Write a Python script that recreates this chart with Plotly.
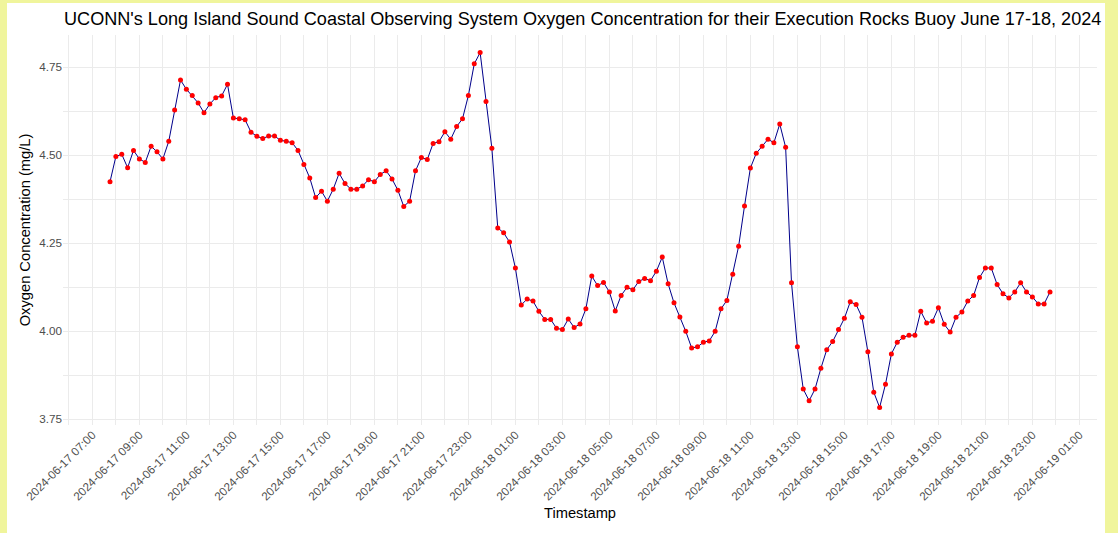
import pandas as pd
import plotly.graph_objects as go

# Dissolved oxygen readings (mg/L), one every 15 minutes from 2024-06-17 07:45
start_time = "2024-06-17 07:45"
interval = "15min"
oxygen_mg_l = [
    4.425, 4.497, 4.503, 4.465, 4.514, 4.490, 4.480, 4.526, 4.510, 4.490,
    4.540, 4.629, 4.714, 4.688, 4.670, 4.649, 4.621, 4.646, 4.664, 4.669,
    4.702, 4.606, 4.604, 4.601, 4.566, 4.554, 4.548, 4.555, 4.555, 4.543,
    4.540, 4.536, 4.514, 4.474, 4.436, 4.380, 4.398, 4.370, 4.404, 4.449,
    4.420, 4.404, 4.404, 4.413, 4.431, 4.425, 4.446, 4.456, 4.433, 4.401,
    4.355, 4.370, 4.456, 4.494, 4.488, 4.534, 4.539, 4.567, 4.546, 4.582,
    4.604, 4.670, 4.760, 4.792, 4.653, 4.520, 4.294, 4.280, 4.254, 4.180,
    4.075, 4.092, 4.086, 4.057, 4.034, 4.034, 4.009, 4.005, 4.035, 4.011,
    4.021, 4.064, 4.157, 4.130, 4.139, 4.112, 4.058, 4.102, 4.125, 4.118,
    4.142, 4.150, 4.144, 4.171, 4.211, 4.135, 4.081, 4.041, 4.000, 3.953,
    3.956, 3.969, 3.973, 4.000, 4.064, 4.088, 4.162, 4.242, 4.356, 4.464,
    4.506, 4.526, 4.546, 4.536, 4.589, 4.523, 4.138, 3.956, 3.836, 3.803,
    3.836, 3.895, 3.948, 3.971, 4.005, 4.037, 4.084, 4.076, 4.040, 3.942,
    3.827, 3.784, 3.850, 3.936, 3.969, 3.983, 3.989, 3.989, 4.057, 4.024,
    4.029, 4.067, 4.020, 3.998, 4.040, 4.055, 4.086, 4.102, 4.153, 4.180,
    4.180, 4.133, 4.107, 4.095, 4.112, 4.138, 4.112, 4.098, 4.078, 4.078,
    4.112,
]
timestamps = pd.date_range(start_time, periods=len(oxygen_mg_l), freq=interval)

y_ticks = [3.75, 4.00, 4.25, 4.50, 4.75]
y_tick_labels = ["3.75", "4.00", "4.25", "4.50", "4.75"]
x_range = ["2024-06-17 05:45", "2024-06-19 01:45"]
y_range = [3.734, 4.842]

FONT = "Liberation Sans, Arial, sans-serif"
GRID = "#EBEBEB"
TICK_GREY = "#4D4D4D"
FRAME = "#F0F59C"

fig = go.Figure()
fig.add_trace(go.Scatter(
    x=timestamps, y=oxygen_mg_l, mode="lines",
    line=dict(color="darkblue", width=1),
    hoverinfo="skip", showlegend=False,
))
fig.add_trace(go.Scatter(
    x=timestamps, y=oxygen_mg_l, mode="markers",
    marker=dict(color="red", size=5, line=dict(width=0)),
    showlegend=False,
))

W, H = 1118, 533
ml, mr, mt, mb = 63, 21, 35, 108
pw, ph = W - ml - mr, H - mt - mb

# white page framed by a yellow border on left, top and right
fig.add_shape(
    type="rect", xref="paper", yref="paper", layer="below",
    x0=(7 - ml) / pw, x1=(1105 - ml) / pw,
    y0=-(mb + 2) / ph, y1=1 + (mt - 3) / ph,
    fillcolor="white", line=dict(width=0),
)

fig.update_layout(
    width=W, height=H,
    margin=dict(l=ml, r=mr, t=mt, b=mb, autoexpand=False),
    paper_bgcolor=FRAME, plot_bgcolor="white",
    font=dict(family=FONT),
    title=dict(
        text="UCONN's Long Island Sound Coastal Observing System Oxygen Concentration for their Execution Rocks Buoy June 17-18, 2024",
        x=(64 - ml) / pw, xref="paper", xanchor="left",
        y=1 - 19 / H, yref="container", yanchor="middle",
        font=dict(size=18.1, color="black", family=FONT),
    ),
    xaxis=dict(
        type="date", range=x_range,
        tick0="2024-06-17 07:00", dtick=2 * 3600 * 1000,
        tickformat="%Y-%m-%d %H:%M", tickangle=-45,
        tickfont=dict(size=11.7, color=TICK_GREY, family=FONT),
        showgrid=True, gridcolor=GRID, gridwidth=1,
        minor=dict(showgrid=True, gridcolor=GRID, gridwidth=0.6,
                   tick0="2024-06-17 06:00", dtick=2 * 3600 * 1000),
        zeroline=False, showline=False, ticks="",
        title=dict(text="Timestamp", font=dict(size=14.7, color="black", family=FONT), standoff=6),
    ),
    yaxis=dict(
        range=y_range, tickvals=y_ticks, ticktext=y_tick_labels,
        tickfont=dict(size=11.7, color=TICK_GREY, family=FONT),
        showgrid=True, gridcolor=GRID, gridwidth=1,
        minor=dict(showgrid=True, gridcolor=GRID, gridwidth=0.6,
                   tickvals=[3.875, 4.125, 4.375, 4.625]),
        zeroline=False, showline=False, ticks="",
        title=dict(text="Oxygen Concentration (mg/L)", font=dict(size=14.7, color="black", family=FONT), standoff=5),
    ),
)

fig.write_html("out.html")
